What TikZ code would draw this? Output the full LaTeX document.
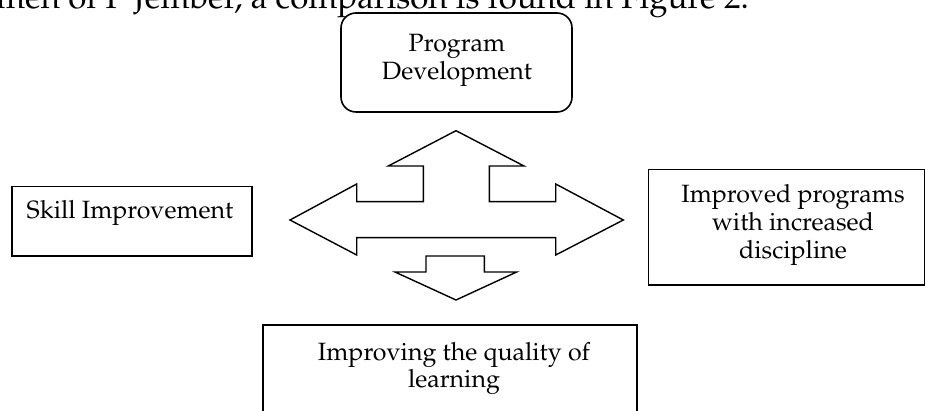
\documentclass[tikz,border=0pt]{standalone}
\usepackage[T1]{fontenc}
\usepackage{mathpazo}
\begin{document}
\begin{tikzpicture}[x=1pt,y=-1pt,
  frame/.style={draw=black,line width=1.6pt,inner sep=0pt,outer sep=0pt},
  label/.style={align=center,font=\fontsize{25}{28}\selectfont,inner sep=0pt,anchor=base},
  bigarrow/.style={draw=black,line width=1.4pt,line join=miter,fill=white}]
\useasboundingbox (0,0) rectangle (926,411);

% running text of the page above the figure
\node[anchor=base east,inner sep=0pt,font=\fontsize{33}{36}\selectfont] (para) at (749,9)
  {nmen of P Jember, a comparison is found in Figure 2.};

% boxes
\draw[frame,rounded corners=15pt] (341,13) rectangle (572,112);
\node[frame,minimum width=240pt,minimum height=69.3pt] (skill) at (131.7,221.3) {};
\node[frame,minimum width=276pt,minimum height=115.7pt] (prog) at (786.3,227.2) {};
\node[frame,minimum width=374pt,minimum height=100pt] (qual) at (449.7,375) {};

% texts (base anchor = baseline of the last line)
\node[label] (devtext) at (457,80) {Program\\Development};
\node[label] (skilltext) at (130,219) {Skill Improvement};
\node[label] (progtext) at (793,259) {Improved programs\\with increased\\discipline};
\node[label] (qualtext) at (454,388) {Improving the quality of\\learning};

% four-way block arrow: up, left and right
\draw[bigarrow] (456,130.7) -- (524,166) -- (489.3,166) -- (489.3,201.7)
  -- (555.7,201.7) -- (555.7,184) -- (623.3,220) -- (555.7,255) -- (555.7,237.7)
  -- (356.7,237.7) -- (356.7,255) -- (290,220) -- (356.7,184) -- (356.7,201.7)
  -- (423.3,201.7) -- (423.3,166) -- (388.3,166) -- cycle;

% separate downward block arrow
\draw[bigarrow] (426,256) -- (484.3,256) -- (484.3,272) -- (516.7,272)
  -- (456,300) -- (395,272) -- (426,272) -- cycle;
\end{tikzpicture}
\end{document}
